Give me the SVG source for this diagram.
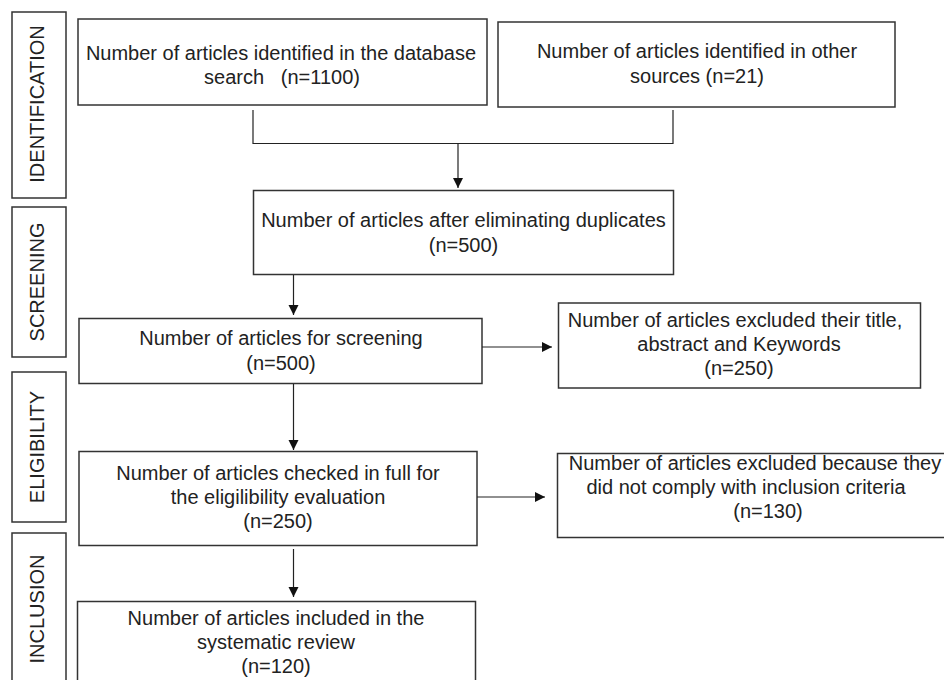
<svg xmlns="http://www.w3.org/2000/svg" width="944" height="680" viewBox="0 0 944 680">
<style>
.box{fill:#fff;stroke:#333;stroke-width:1.5}
.t{font-family:"Liberation Sans",Arial,sans-serif;font-size:20px;fill:#222;text-anchor:middle}
.v{font-family:"Liberation Sans",Arial,sans-serif;font-size:20px;fill:#222;text-anchor:middle}
.c{fill:none;stroke:#222;stroke-width:1.2}
</style>
<defs>
<marker id="ah" markerUnits="userSpaceOnUse" markerWidth="12" markerHeight="12" viewBox="0 0 12 12" refX="10" refY="5" orient="auto">
<path d="M0,0 L10,5 L0,10 Z" fill="#111"/>
</marker>
</defs>
<rect width="944" height="680" fill="#fff"/>
<g id="stage-identification">
<rect class="box" x="12" y="12" width="54" height="186"/>
<text class="v" transform="translate(44,104) rotate(-90)">IDENTIFICATION</text>
</g>
<g id="stage-screening">
<rect class="box" x="12" y="207" width="54" height="150"/>
<text class="v" transform="translate(44,282) rotate(-90)">SCREENING</text>
</g>
<g id="stage-eligibility">
<rect class="box" x="12" y="372" width="54" height="150"/>
<text class="v" transform="translate(44,447) rotate(-90)">ELIGIBILITY</text>
</g>
<g id="stage-inclusion">
<rect class="box" x="12" y="533" width="54" height="160"/>
<text class="v" transform="translate(44,609) rotate(-90)">INCLUSION</text>
</g>
<g id="n-database">
<rect class="box" x="78" y="19" width="409" height="86"/>
<text class="t" x="281" y="60">Number of articles identified in the database</text>
<text class="t" x="282" y="84" style="white-space:pre">search   (n=1100)</text>
</g>
<g id="n-other">
<rect class="box" x="498" y="22" width="397" height="85"/>
<text class="t" x="697" y="58">Number of articles identified in other</text>
<text class="t" x="697" y="83">sources (n=21)</text>
</g>
<g id="n-duplicates">
<rect class="box" x="253.5" y="190.5" width="420" height="84"/>
<text class="t" x="463.5" y="227">Number of articles after eliminating duplicates</text>
<text class="t" x="463.5" y="252">(n=500)</text>
</g>
<g id="n-screening">
<rect class="box" x="79" y="318.5" width="403" height="65"/>
<text class="t" x="281" y="345">Number of articles for screening</text>
<text class="t" x="281" y="370">(n=500)</text>
</g>
<g id="n-excluded-title">
<rect class="box" x="558.5" y="303" width="362" height="85"/>
<text class="t" x="735" y="327">Number of articles excluded their title,</text>
<text class="t" x="739" y="351">abstract and Keywords</text>
<text class="t" x="739" y="375">(n=250)</text>
</g>
<g id="n-eligibility">
<rect class="box" x="79" y="451.5" width="398" height="94"/>
<text class="t" x="278" y="480">Number of articles checked in full for</text>
<text class="t" x="278" y="504">the eligilibility evaluation</text>
<text class="t" x="278" y="528">(n=250)</text>
</g>
<g id="n-excluded-criteria">
<rect class="box" x="557.5" y="453.5" width="420" height="84"/>
<text class="t" x="755" y="470">Number of articles excluded because they</text>
<text class="t" x="746" y="494">did not comply with inclusion criteria</text>
<text class="t" x="768" y="518">(n=130)</text>
</g>
<g id="n-included">
<rect class="box" x="77.5" y="601.5" width="398" height="100"/>
<text class="t" x="276" y="625">Number of articles included in the</text>
<text class="t" x="276" y="649">systematic review</text>
<text class="t" x="276" y="673">(n=120)</text>
</g>
<g id="connectors">
<path class="c" d="M253,110 V143.5 H673 V110"/>
<path class="c" d="M458,143.5 V188" marker-end="url(#ah)"/>
<path class="c" d="M293.5,275 V315" marker-end="url(#ah)"/>
<path class="c" d="M482,347 H552" marker-end="url(#ah)"/>
<path class="c" d="M293.5,384 V450" marker-end="url(#ah)"/>
<path class="c" d="M477,497 H545" marker-end="url(#ah)"/>
<path class="c" d="M293.5,549 V597" marker-end="url(#ah)"/>
</g>
</svg>
